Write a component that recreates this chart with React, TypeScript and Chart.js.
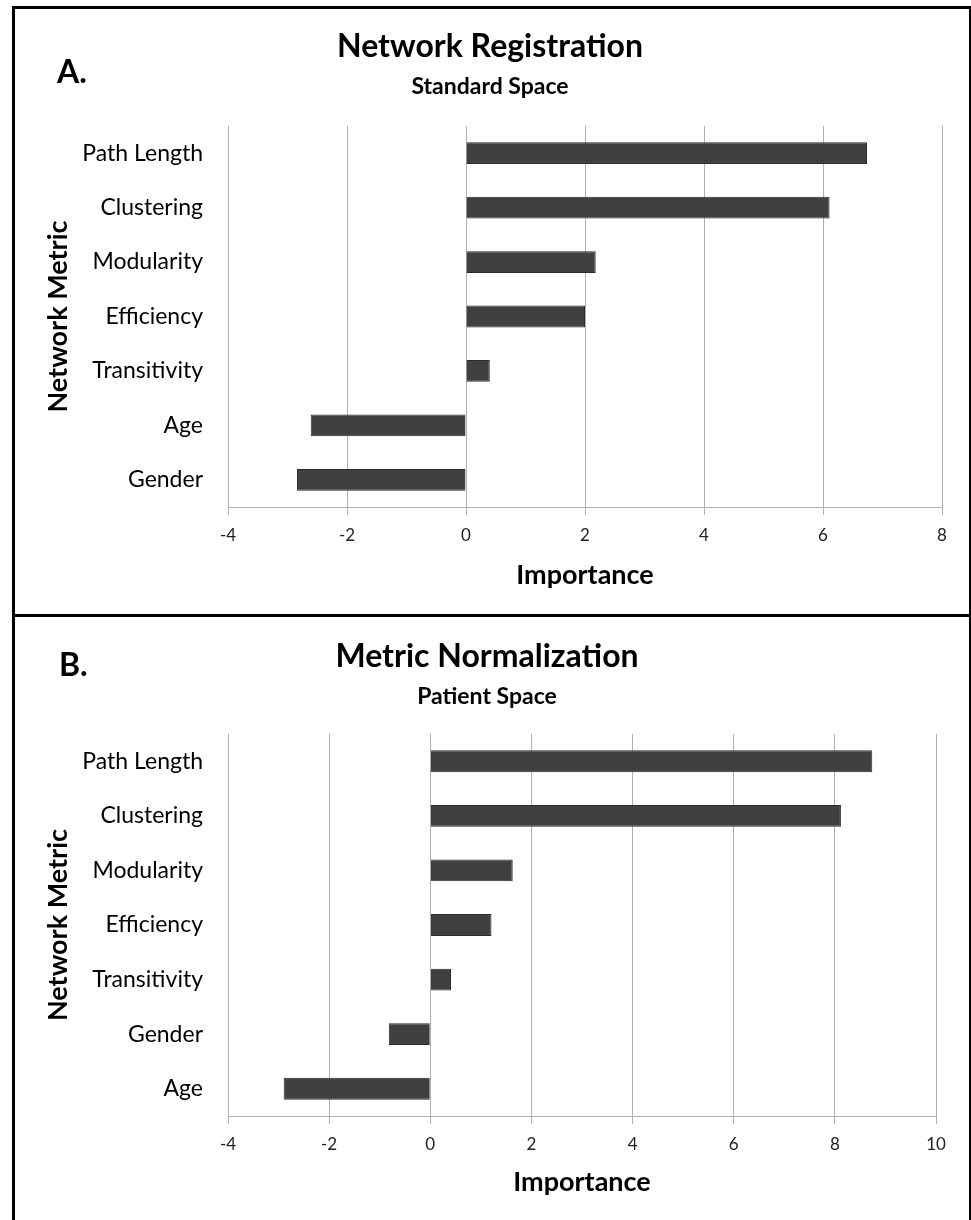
import React, { useEffect, useRef } from "react";
import { Chart, registerables } from "chart.js";

Chart.register(...registerables);

// ---- Data ----
const categoriesA = ["Path Length", "Clustering", "Modularity", "Efficiency", "Transitivity", "Age", "Gender"];
const valuesA = [6.74, 6.11, 2.18, 2.0, 0.4, -2.61, -2.84];
const xTicksA = [-4, -2, 0, 2, 4, 6, 8];

const categoriesB = ["Path Length", "Clustering", "Modularity", "Efficiency", "Transitivity", "Gender", "Age"];
const valuesB = [8.74, 8.12, 1.63, 1.21, 0.41, -0.82, -2.9];
const xTicksB = [-4, -2, 0, 2, 4, 6, 8, 10];

const titleA = "Network Registration";
const subtitleA = "Standard Space";
const titleB = "Metric Normalization";
const subtitleB = "Patient Space";
const xTitle = "Importance";
const yTitle = "Network Metric";

const FONT = "Lato, 'Open Sans', sans-serif";
const GRID = "#b0b0b0";

type PanelProps = {
  categories: string[];
  values: number[];
  ticks: number[];
  title: string;
  subtitle: string;
  top: number;
  height: number;
  padRight: number;
  titleTop: number;
  subGap: number;
  subBottom: number;
  xAxisHeight: number;
  xTitleBottom: number;
  tickPad: number;
};

function Panel(p: PanelProps) {
  const ref = useRef<HTMLCanvasElement | null>(null);
  useEffect(() => {
    if (!ref.current) return;
    const chart = new Chart(ref.current, {
      type: "bar",
      data: {
        labels: p.categories,
        datasets: [
          {
            data: p.values,
            backgroundColor: "#404040",
            borderColor: "#2c2c2c",
            borderWidth: 1,
            barPercentage: 0.4,
            categoryPercentage: 1,
          },
        ],
      },
      options: {
        indexAxis: "y",
        animation: false,
        responsive: false,
        maintainAspectRatio: false,
        devicePixelRatio: 1,
        layout: { padding: { left: 38, right: p.padRight, top: 0, bottom: 0 } },
        plugins: {
          legend: { display: false },
          tooltip: { enabled: false },
          title: {
            display: true,
            text: p.title,
            color: "#000",
            font: { family: FONT, size: 32, weight: "bold", lineHeight: 1.2 },
            padding: { top: p.titleTop, bottom: 4 },
          },
          subtitle: {
            display: true,
            text: p.subtitle,
            color: "#000",
            font: { family: FONT, size: 23, weight: "bold", lineHeight: 1.2 },
            padding: { top: p.subGap, bottom: p.subBottom },
          },
        },
        scales: {
          x: {
            type: "linear",
            min: p.ticks[0],
            max: p.ticks[p.ticks.length - 1],
            afterBuildTicks: (scale: any) => {
              scale.ticks = p.ticks.map((v) => ({ value: v }));
            },
            ticks: {
              stepSize: 2,
              color: "#222",
              font: { family: FONT, size: 17 },
              padding: p.tickPad,
            },
            grid: {
              color: GRID,
              lineWidth: 1,
              drawTicks: true,
              tickLength: 8,
              tickColor: GRID,
            },
            border: { display: true, color: GRID, width: 1 },
            title: {
              display: true,
              text: xTitle,
              color: "#000",
              font: { family: FONT, size: 27, weight: "bold", lineHeight: 1.2 },
              padding: { top: 4, bottom: p.xTitleBottom },
            },
            afterFit: (scale: any) => {
              scale.height = p.xAxisHeight;
            },
          },
          y: {
            ticks: {
              color: "#000",
              font: { family: FONT, size: 23 },
              padding: 17,
            },
            grid: { display: false },
            border: { display: false },
            title: {
              display: true,
              text: yTitle,
              color: "#000",
              font: { family: FONT, size: 27, weight: "bold", lineHeight: 1.2 },
              padding: { top: 4, bottom: 4 },
            },
            afterFit: (scale: any) => {
              scale.width = 190;
            },
          },
        },
      } as any,
    });
    return () => chart.destroy();
  }, []);
  return (
    <canvas
      ref={ref}
      width={971}
      height={p.height}
      style={{ position: "absolute", left: 0, top: p.top, width: 971, height: p.height }}
    />
  );
}

export default function App() {
  useEffect(() => {
    document.body.style.margin = "0";
  }, []);
  const letter: React.CSSProperties = {
    position: "absolute",
    fontFamily: FONT,
    fontWeight: "bold",
    fontSize: 32,
    lineHeight: "32px",
    color: "#000",
  };
  return (
    <div style={{ position: "relative", width: 971, height: 1220, overflow: "hidden", background: "#fff" }}>
      <Panel
        categories={categoriesA}
        values={valuesA}
        ticks={xTicksA}
        title={titleA}
        subtitle={subtitleA}
        top={0}
        height={616}
        padRight={29}
        titleTop={27}
        subGap={3}
        subBottom={26}
        xAxisHeight={109}
        xTitleBottom={24.8}
        tickPad={10}
      />
      <Panel
        categories={categoriesB}
        values={valuesB}
        ticks={xTicksB}
        title={titleB}
        subtitle={subtitleB}
        top={616}
        height={604}
        padRight={35}
        titleTop={21}
        subGap={3}
        subBottom={24}
        xAxisHeight={104}
        xTitleBottom={22}
        tickPad={10}
      />
      <div style={{ ...letter, left: 57, top: 55 }}>A.</div>
      <div style={{ ...letter, left: 59, top: 648 }}>B.</div>
      <div
        style={{
          position: "absolute",
          left: 12,
          top: 6,
          width: 959,
          height: 1230,
          border: "3px solid #000",
          borderRightWidth: 2,
          boxSizing: "border-box",
          pointerEvents: "none",
        }}
      />
      <div style={{ position: "absolute", left: 12, top: 614, width: 959, height: 3, background: "#000" }} />
    </div>
  );
}
